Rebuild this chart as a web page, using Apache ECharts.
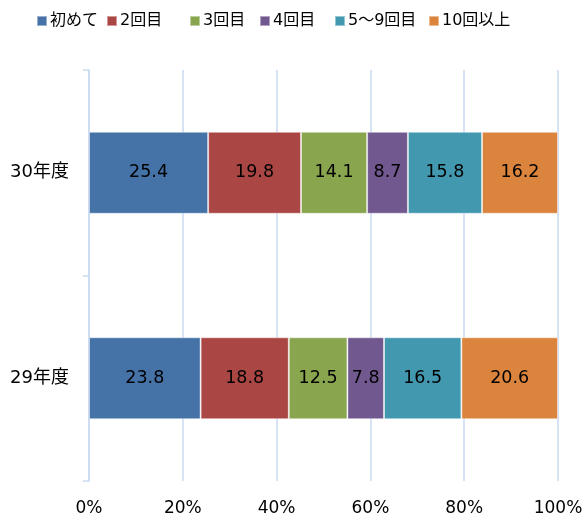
<!DOCTYPE html>
<html>
<head>
    <meta charset="utf-8">
    <title>回数別割合</title>
    <script src="https://cdn.jsdelivr.net/npm/echarts@6/dist/echarts.min.js"></script>
    <style>
        html,body{
            height:100%;
            width:100%;
            margin:0;
            padding:0;
            background:#fff;
        }
        #main{
            width:587px;
            height:517px;
        }
    </style>
</head>
<body>
<div id="main"></div>
<script>
    // 年度
    var years = ['30年度', '29年度'];
    // 系列名
    var names = ['初めて', '2回目', '3回目', '4回目', '5～9回目', '10回以上'];
    // 各系列の値 (30年度, 29年度)
    var first = [25.4, 23.8];
    var second = [19.8, 18.8];
    var third = [14.1, 12.5];
    var fourth = [8.7, 7.8];
    var fiveToNine = [15.8, 16.5];
    var tenPlus = [16.2, 20.6];
    var values = [first, second, third, fourth, fiveToNine, tenPlus];
    // 目盛り
    var xTicks = [0, 20, 40, 60, 80, 100];

    var colors = ['#4572a7', '#aa4643', '#89a54e', '#71588f', '#4198af', '#db843d'];
    var font = "'DejaVu Sans', 'Noto Sans CJK JP', sans-serif";
    var gridColor = '#c8daf0';

    var myChart = echarts.init(document.getElementById('main'));

    // 凡例は一つずつ配置
    var legendLeft = [36, 106, 189, 259, 334, 428];
    var legends = names.map(function (n, i) {
        return {
            data: [n],
            left: legendLeft[i],
            top: 13,
            padding: 0,
            itemWidth: 10,
            itemHeight: 10,
            icon: 'rect',
            selectedMode: false,
            textStyle: {fontFamily: font, fontSize: 16, color: '#000', padding: [0, 0, 0, -2]}
        };
    });

    var series = names.map(function (n, i) {
        return {
            name: n,
            type: 'bar',
            stack: 'total',
            barWidth: 82,
            data: values[i],
            itemStyle: {
                color: colors[i],
                borderColor: 'rgba(255,255,255,0.45)',
                borderWidth: 1
            },
            label: {
                show: true,
                position: 'inside',
                color: '#000',
                fontFamily: font,
                fontSize: 17.5,
                formatter: function (p) { return p.value.toFixed(1); }
            }
        };
    });

    var option = {
        animation: false,
        color: colors,
        legend: legends,
        grid: {left: 89, right: 29, top: 70, bottom: 36},
        xAxis: {
            type: 'value',
            min: xTicks[0],
            max: xTicks[xTicks.length - 1],
            interval: xTicks[1] - xTicks[0],
            axisLine: {show: false},
            axisTick: {show: false},
            axisLabel: {
                margin: 19,
                fontFamily: font,
                fontSize: 17,
                color: '#000',
                formatter: '{value}%'
            },
            splitLine: {lineStyle: {color: gridColor, width: 1.5}}
        },
        yAxis: {
            type: 'category',
            inverse: true,
            data: years,
            axisLine: {lineStyle: {color: gridColor, width: 1.5}},
            axisTick: {show: true, length: 6, lineStyle: {color: gridColor, width: 1.5}},
            axisLabel: {
                margin: 20,
                fontFamily: font,
                fontSize: 18,
                color: '#000'
            }
        },
        series: series
    };
    myChart.setOption(option);
</script>
</body>
</html>
